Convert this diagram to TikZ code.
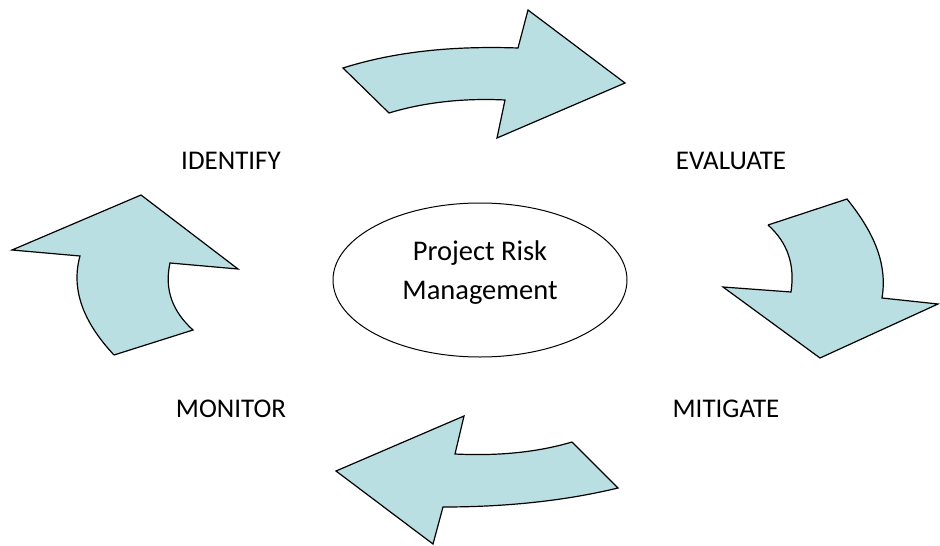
\documentclass[tikz,border=0pt]{standalone}
\usepackage{fontspec}
\setmainfont{Carlito}
\usetikzlibrary{shapes.geometric}
\definecolor{arrowfill}{RGB}{185,223,226}
\tikzset{
  bentarrow/.style={draw=black, line width=1.2pt, fill=arrowfill, line join=miter},
  steplabel/.style={font=\fontsize{27}{32}\selectfont, inner sep=0pt},
  hub/.style={ellipse, draw=black, line width=1pt, minimum width=294pt, minimum height=154pt,
              inner sep=0pt},
  hubtext/.style={align=center, inner sep=0pt, font=\fontsize{28.5}{39}\selectfont}
}
\begin{document}
\begin{tikzpicture}[x=1pt, y=-1pt]
\useasboundingbox (0,0) rectangle (940,546);

% centre ellipse and its caption
\node[hub] (hub) at (480,280) {};
\node[hubtext] (hubcaption) at (480,273) {Project Risk\\Management};

% step labels
\node[steplabel] (identify) at (231,161) {IDENTIFY};
\node[steplabel] (evaluate) at (731,161) {EVALUATE};
\node[steplabel] (monitor)  at (231,409) {MONITOR};
\node[steplabel] (mitigate) at (726,409) {MITIGATE};

% top arrow: IDENTIFY -> EVALUATE
\draw[bentarrow] (343,68) .. controls (400,50) and (460,46) .. (518,48)
  -- (528,10) -- (625,83) -- (497,138) -- (505,100)
  .. controls (465,98) and (425,102) .. (389,113) -- cycle;

% right arrow: EVALUATE -> MITIGATE
\draw[bentarrow] (768,225) -- (847,199)
  .. controls (872,230) and (888,262) .. (882,298)
  -- (938,304) -- (820,358) -- (723,287) -- (791,292)
  .. controls (795,265) and (788,243) .. (768,225);

% bottom arrow: MITIGATE -> MONITOR
\draw[bentarrow] (572,442) -- (618,488)
  .. controls (560,502) and (500,507) .. (443,507)
  -- (433,544) -- (336,471) -- (464,416) -- (455,454)
  .. controls (495,456) and (535,453) .. (572,442);

% left arrow: MONITOR -> IDENTIFY
\draw[bentarrow] (114,355) -- (193,330)
  .. controls (173,312) and (164,290) .. (170,263)
  -- (238,269) -- (141,195) -- (12,250) -- (80,256)
  .. controls (70,292) and (86,325) .. (114,355);
\end{tikzpicture}
\end{document}
